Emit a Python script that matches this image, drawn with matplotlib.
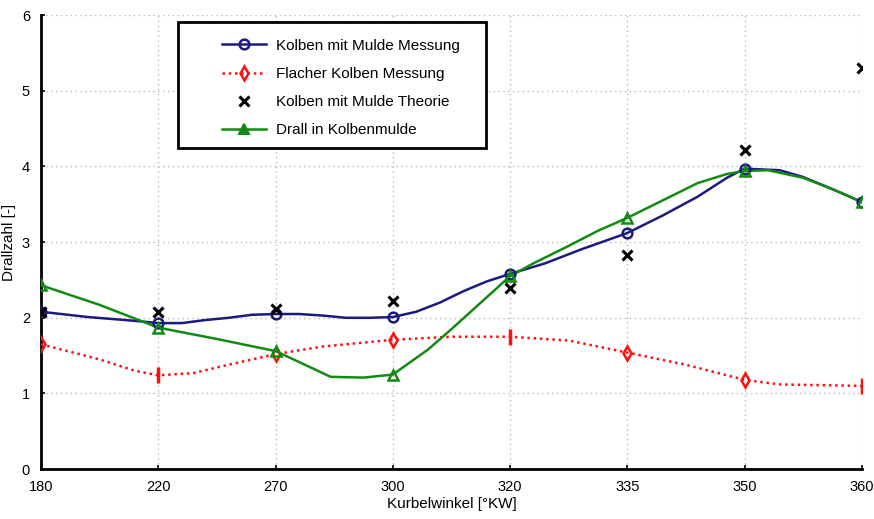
import matplotlib.pyplot as plt
from matplotlib.patches import Rectangle

plt.rcParams['font.family'] = ['Liberation Sans', 'DejaVu Sans']

# category axis (equally spaced)
angles = ['180', '220', '270', '300', '320', '335', '350', '360']
pos = list(range(len(angles)))

# values at the measuring points
mulde_mess = [2.08, 1.93, 2.05, 2.01, 2.58, 3.12, 3.97, 3.53]
flach_mess = [1.65, 1.24, 1.52, 1.71, 1.75, 1.54, 1.18, 1.10]
mulde_theo = [2.08, 2.08, 2.12, 2.22, 2.40, 2.83, 4.22, 5.30]
drall_mulde = [2.43, 1.87, 1.56, 1.25, 2.55, 3.32, 3.94, 3.53]

# curve shapes read between the points (x in category units)
blue_x = [0, 0.4, 0.8, 1.0, 1.2, 1.4, 1.6, 1.8, 2.0, 2.2, 2.4, 2.6, 2.8, 3.0,
          3.2, 3.4, 3.6, 3.8, 4.0, 4.3, 4.6, 5.0, 5.3, 5.6, 5.85, 6.0, 6.3, 6.5, 6.75, 7.0]
blue_y = [2.08, 2.01, 1.96, 1.93, 1.93, 1.97, 2.00, 2.04, 2.05, 2.05, 2.03, 2.00, 2.00, 2.01,
          2.08, 2.20, 2.35, 2.48, 2.58, 2.72, 2.90, 3.12, 3.35, 3.60, 3.85, 3.97, 3.95, 3.86, 3.70, 3.53]

red_x = [0, 0.5, 0.8, 1.0, 1.3, 1.6, 2.0, 2.4, 3.0, 3.5, 4.0, 4.5, 5.0, 5.5, 6.0, 6.3, 7.0]
red_y = [1.65, 1.45, 1.30, 1.24, 1.27, 1.38, 1.52, 1.62, 1.71, 1.75, 1.75, 1.70, 1.54, 1.38, 1.18, 1.12, 1.10]

green_x = [0, 0.5, 1.0, 1.5, 2.0, 2.25, 2.47, 2.75, 3.0, 3.3, 3.5, 3.75, 4.0, 4.2, 4.5, 4.75, 5.0,
           5.3, 5.6, 5.85, 6.0, 6.2, 6.5, 6.75, 7.0]
green_y = [2.43, 2.17, 1.87, 1.72, 1.56, 1.38, 1.22, 1.21, 1.25, 1.58, 1.85, 2.20, 2.55, 2.72, 2.95,
           3.15, 3.32, 3.55, 3.78, 3.90, 3.94, 3.95, 3.85, 3.70, 3.53]

blue = '#1a1a80'
red = '#ff1010'
green = '#138a13'

fig = plt.figure(figsize=(8.74, 5.19), dpi=100)
ax = fig.add_axes([0.047, 0.096, 0.939, 0.875])

# lines
ax.plot(blue_x, blue_y, color=blue, lw=1.8, zorder=3)
ax.plot(red_x, red_y, color=red, lw=1.8, ls=(0, (1, 1.5)), zorder=3)
ax.plot(green_x, green_y, color=green, lw=1.8, zorder=3)

# markers
ax.plot(pos, mulde_mess, ls='none', marker='o', ms=7, mfc='none', mec=blue, mew=1.8, zorder=4)
dia = [0, 2, 3, 5, 6]
bar = [1, 4, 7]
ax.plot([pos[i] for i in dia], [flach_mess[i] for i in dia], ls='none', marker='d', ms=7,
        mfc='none', mec=red, mew=1.8, zorder=4)
ax.plot([pos[i] for i in bar], [flach_mess[i] for i in bar], ls='none', marker='|', ms=12,
        mec=red, mew=2.5, zorder=4)
ax.plot(pos, mulde_theo, ls='none', marker='x', ms=7, mec='black', mew=2.2, zorder=5)
ax.plot(pos, drall_mulde, ls='none', marker='^', ms=7, mfc='none', mec=green, mew=1.8, zorder=4)

# legend box (drawn separately, wider left margin like the original)
box = Rectangle((0.167, 0.707), 0.375, 0.278, transform=ax.transAxes, facecolor='white',
                edgecolor='black', lw=2, zorder=6, clip_on=False)
ax.add_patch(box)

h1, = ax.plot([], [], color=blue, lw=1.8, marker='o', ms=7, mfc='none', mec=blue, mew=1.8)
h2, = ax.plot([], [], color=red, lw=1.8, ls=(0, (1, 1.5)), marker='d', ms=7, mfc='none', mec=red, mew=1.8)
h3, = ax.plot([], [], ls='none', marker='x', ms=7, mec='black', mew=2.2)
h4, = ax.plot([], [], color=green, lw=1.8, marker='^', ms=7, mfc=green, mec=green, mew=1.5)
leg = ax.legend([h1, h2, h3, h4],
                ['Kolben mit Mulde Messung', 'Flacher Kolben Messung',
                 'Kolben mit Mulde Theorie', 'Drall in Kolbenmulde'],
                loc='upper left', bbox_to_anchor=(0.2205, 0.948), fontsize=11,
                frameon=False, handlelength=2.9, handletextpad=0.6,
                borderpad=0, labelspacing=0.93, borderaxespad=0)
leg.set_zorder(7)

ax.set_xlim(0, 7)
ax.set_ylim(0, 6)
ax.set_xticks(pos)
ax.set_xticklabels(angles)
ax.set_yticks(range(0, 7))
ax.tick_params(direction='in', length=3, width=1.2, labelsize=10.5, pad=8)
ax.grid(True, color='#b8b8b8', ls=(0, (1, 2.5)), lw=1)
ax.set_axisbelow(True)
for s in ['top', 'right']:
    ax.spines[s].set_visible(False)
for s in ['left', 'bottom']:
    ax.spines[s].set_linewidth(2)
ax.set_xlabel('Kurbelwinkel [°KW]', fontsize=11, labelpad=2)
ax.set_ylabel('Drallzahl [-]', fontsize=11, labelpad=4)

fig.savefig('out.png', dpi=100)
